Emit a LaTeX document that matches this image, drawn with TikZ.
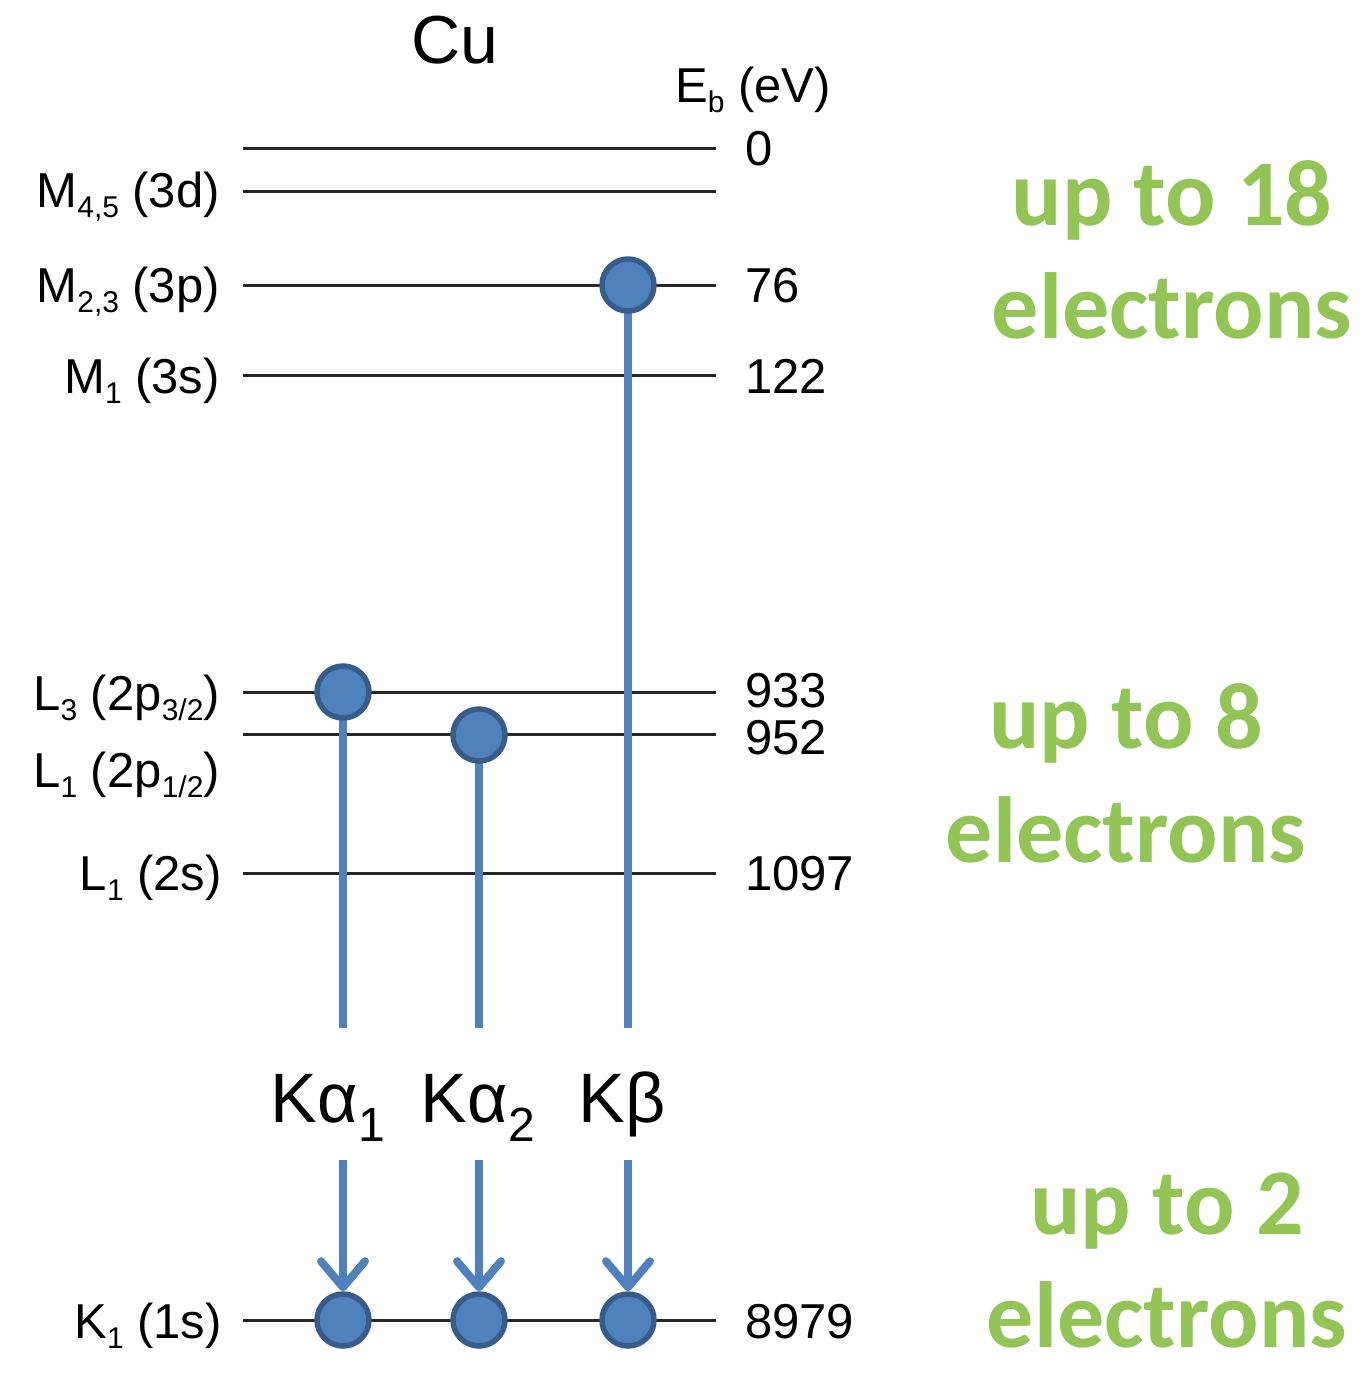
\documentclass[tikz,border=0pt]{standalone}
\usepackage{fontspec}
\setmainfont{Liberation Sans}
\newfontfamily\greenfont{Carlito}
\usetikzlibrary{arrows.meta,backgrounds}
\definecolor{cblue}{RGB}{79,129,189}
\definecolor{cblueD}{RGB}{56,92,138}
\definecolor{cgreen}{RGB}{146,196,86}
\newcommand{\lsub}[1]{\raisebox{-0.22em}{\fontsize{30}{30}\selectfont #1}}
\newcommand{\ksub}[1]{\raisebox{-0.28em}{\fontsize{48}{48}\selectfont #1}}
\begin{document}
\begin{tikzpicture}[x=1pt,y=-1pt,
  level/.style={line width=3, black!85},
  lbl/.style={inner sep=0, anchor=base east, font=\fontsize{49}{58}\selectfont},
  val/.style={inner sep=0, anchor=base west, font=\fontsize{49}{58}\selectfont},
  dot/.style={circle, fill=cblue, draw=cblueD, line width=5.5, minimum size=52, inner sep=0},
  trans/.style={cblue, line width=8},
  tip/.style={-{Straight Barb[length=26, width=44, line width=8, round]}},
  grn/.style={anchor=base, inner sep=0, text=cgreen, font=\greenfont\bfseries\fontsize{94}{100}\selectfont},
  big/.style={inner sep=0, anchor=base west, font=\fontsize{70}{80}\selectfont}]
\useasboundingbox (0,0) rectangle (1370,1392);

% level line end points
\foreach \n/\y in {l0/148, m45/191, m23/285, m1/375, l3/692, l2/734, l1/873, k/1320}{
  \coordinate (\n-L) at (243,\y);
  \coordinate (\n-R) at (716,\y);
}

% titles
\node[inner sep=0, anchor=base, font=\fontsize{68}{80}\selectfont] (cu) at (455,63) {Cu};
\node[val] (eb) at (675,102) {E\lsub{b} (eV)};

% left labels
\node[lbl] (tm45) at (220,207) {M\lsub{4,5} (3d)};
\node[lbl] (tm23) at (220,302) {M\lsub{2,3} (3p)};
\node[lbl] (tm1) at (220,393) {M\lsub{1} (3s)};
\node[lbl] (tl3) at (220,710) {L\lsub{3} (2p\lsub{3/2})};
\node[lbl] (tl2) at (220,787) {L\lsub{1} (2p\lsub{1/2})};
\node[lbl] (tl1) at (222,890) {L\lsub{1} (2s)};
\node[lbl] (tk) at (222,1338) {K\lsub{1} (1s)};

% right values
\node[val] (v0) at (745,165) {0};
\node[val] (v76) at (745,302) {76};
\node[val] (v122) at (745,393) {122};
\node[val] (v933) at (745,707) {933};
\node[val] (v952) at (745,754) {952};
\node[val] (v1097) at (745,890) {1097};
\node[val] (v8979) at (745,1338) {8979};

% electrons
\node[dot] (d1) at (343,692) {};
\node[dot] (d2) at (479,735) {};
\node[dot] (d3) at (628,285) {};
\node[dot] (k1) at (343,1320) {};
\node[dot] (k2) at (479,1320) {};
\node[dot] (k3) at (628,1320) {};

% transition line ends
\coordinate (e1) at (343,1028);
\coordinate (e2) at (479,1028);
\coordinate (e3) at (628,1028);
\coordinate (s1) at (343,1160);
\coordinate (s2) at (479,1160);
\coordinate (s3) at (628,1160);

% transition labels
\node[big] (tka1) at (270,1122) {K\kern1pt α\ksub{1}};
\node[big] (tka2) at (420,1122) {K\kern1pt α\ksub{2}};
\node[big] (tkb) at (578,1122) {K\kern1pt β};

\begin{scope}[on background layer]
  \foreach \n in {l0, m45, m23, m1, l3, l2, l1, k}
    \draw[level] (\n-L) -- (\n-R);
  \draw[trans] (d1.center) -- (e1);
  \draw[trans] (d2.center) -- (e2);
  \draw[trans] (d3.center) -- (e3);
\end{scope}
\draw[trans, tip] (s1) -- (k1.north);
\draw[trans, tip] (s2) -- (k2.north);
\draw[trans, tip] (s3) -- (k3.north);

% shell capacities
\node[grn] (g18a) at (1172,225) {up to 18};
\node[grn] (g18b) at (1172,338) {electrons};
\node[grn] (g8a) at (1126,748) {up to 8};
\node[grn] (g8b) at (1126,862) {electrons};
\node[grn] (g2a) at (1167,1234) {up to 2};
\node[grn] (g2b) at (1167,1347) {electrons};
\end{tikzpicture}
\end{document}
